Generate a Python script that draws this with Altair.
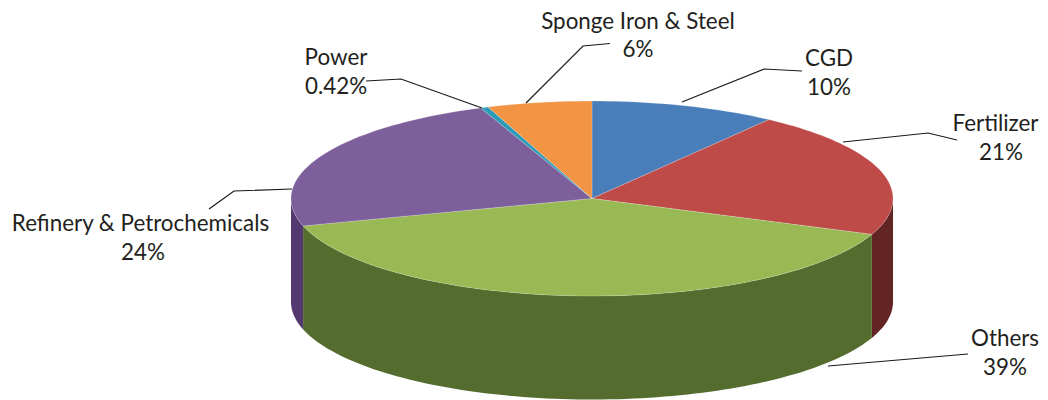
import math
import altair as alt
import pandas as pd

names = ["CGD", "Fertilizer", "Others", "Refinery & Petrochemicals", "Power", "Sponge Iron & Steel"]
shares = [10, 21, 39.47, 23.5, 0.42, 5.61]
top_colors = ["#4a7ebb", "#be4b48", "#98b954", "#7d5f9c", "#2c9bb8", "#f39444"]
wall_colors = ["#2c4d75", "#632523", "#546d2e", "#53396f", "#215968", "#984807"]
label_lines = ["10%", "21%", "39%", "24%", "0.42%", "6%"]

W, H = 1032, 392
OX, OY = 8, 8
CX, CY, RX, RY, DEPTH = 592, 198.5, 301, 97.5, 103.5

# label anchors (image pixels): name line x, y; percent line x, y
label_x = [829, 995.5, 1005, 140.5, 336, 638]
label_y = [59, 124, 339, 224, 58, 22]
pct_x = [829, 1001, 1005, 143, 336, 638]
pct_y = [88, 153, 368, 253, 87, 50]
leaders = [
    [(682, 102), (764, 69), (802, 71)],
    [(843, 142), (928, 133), (957, 140)],
    [(828, 366), (968, 354)],
    [(292, 189), (234, 191), (209, 209)],
    [(482, 108), (401, 79), (366, 81)],
    [(526, 103), (583, 46), (610, 43.5)],
]

total = sum(shares)
cum = [0]
for s in shares:
    cum.append(cum[-1] + s / total)


def rim(frac):
    a = 2 * math.pi * frac
    return CX + RX * math.sin(a), CY - RY * math.cos(a)


top_rows, wall_rows = [], []
for i, n in enumerate(names):
    a0, a1 = cum[i], cum[i + 1]
    steps = max(2, int((a1 - a0) * 240))
    top_rows.append(dict(name=n, k=0, x=CX, y=CY))
    for j in range(steps + 1):
        f = a0 + (a1 - a0) * j / steps
        x, y = rim(f)
        top_rows.append(dict(name=n, k=j + 1, x=x, y=y))
        if 0.25 <= f <= 0.75:
            wall_rows.append(dict(name=n, x=x, ytop=y, ybot=y + DEPTH))
    for lim in (0.25, 0.75):
        if a0 < lim < a1:
            x, y = rim(lim)
            wall_rows.append(dict(name=n, x=x, ytop=y, ybot=y + DEPTH))

top_df = pd.DataFrame(top_rows)
wall_df = pd.DataFrame(wall_rows).sort_values("x")

xs = alt.Scale(domain=[OX, OX + W], range=[0, W], nice=False, zero=False)
ys = alt.Scale(domain=[OY, OY + H], range=[0, H], nice=False, zero=False)
X = alt.X("x:Q", scale=xs, axis=None)
Y = alt.Y("y:Q", scale=ys, axis=None)

layers = []
for i, n in enumerate(names):
    d = wall_df[wall_df.name == n]
    if len(d):
        layers.append(
            alt.Chart(d).mark_area(color=wall_colors[i], orient="vertical").encode(
                x=X,
                y=alt.Y("ytop:Q", scale=ys, axis=None, stack=None),
                y2=alt.Y2("ybot:Q"),
            )
        )
for i, n in enumerate(names):
    d = top_df[top_df.name == n]
    layers.append(
        alt.Chart(d).mark_line(fill=top_colors[i], stroke="#ffffff", strokeWidth=0.4, strokeOpacity=0.5, interpolate="linear-closed").encode(
            x=X, y=Y, order=alt.Order("k:Q")
        )
    )

lead_rows = []
for i, pts in enumerate(leaders):
    for k, (x, y) in enumerate(pts):
        lead_rows.append(dict(name=names[i], k=k, x=x, y=y))
layers.append(
    alt.Chart(pd.DataFrame(lead_rows)).mark_line(color="#1a1a1a", strokeWidth=1.2).encode(
        x=X, y=Y, detail="name:N", order=alt.Order("k:Q")
    )
)

text_rows = []
for i, n in enumerate(names):
    text_rows.append(dict(t=n, x=label_x[i], y=label_y[i]))
    text_rows.append(dict(t=label_lines[i], x=pct_x[i], y=pct_y[i]))
layers.append(
    alt.Chart(pd.DataFrame(text_rows)).mark_text(
        font="Lato", fontSize=22.4, color="#231f20", align="center", baseline="middle"
    ).encode(x=X, y=Y, text="t:N")
)

chart = (
    alt.layer(*layers)
    .properties(width=W, height=H, padding=0)
    .configure_view(stroke=None)
)
chart.save("out.html", embed_options={"renderer": "svg", "actions": False})
